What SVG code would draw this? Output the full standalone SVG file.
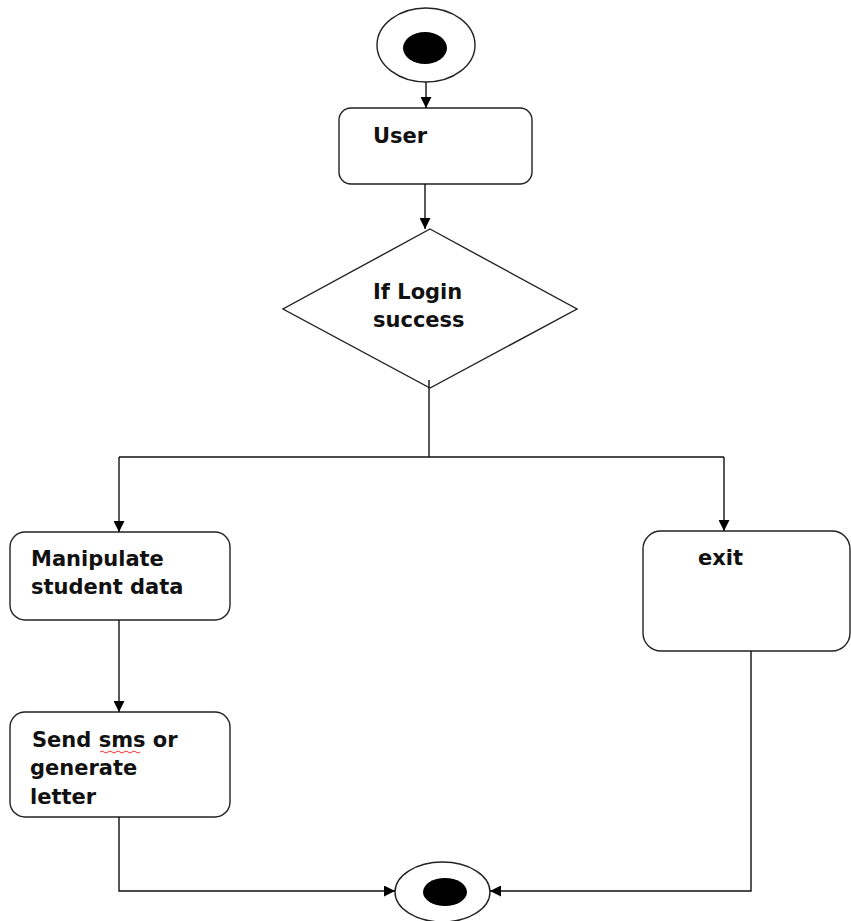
<svg xmlns="http://www.w3.org/2000/svg" width="851" height="921" viewBox="0 0 851 921">
<style>
.box{fill:#fff;stroke:#222;stroke-width:1.4}
.ln{fill:none;stroke:#111;stroke-width:1.4}
.t{font-family:"DejaVu Sans",Verdana,sans-serif;font-weight:bold;font-size:21px;fill:#111}
</style>
<defs>
<marker id="arr" viewBox="0 0 10 10" refX="10" refY="5" markerWidth="11" markerHeight="11" markerUnits="userSpaceOnUse" orient="auto">
<path d="M0,0 L10,5 L0,10 z" fill="#000"/>
</marker>
</defs>
<rect width="851" height="921" fill="#fff"/>
<g id="start">
<ellipse class="box" cx="426" cy="45" rx="49" ry="37"/>
<ellipse cx="425" cy="48" rx="22" ry="16" fill="#000"/>
</g>
<g id="user">
<rect class="box" x="339" y="108" width="193" height="76" rx="12"/>
<text class="t" x="373" y="143">User</text>
</g>
<g id="decision">
<polygon class="box" points="430,229 577,309 430,388 283,309"/>
<text class="t" x="373" y="299">If Login</text>
<text class="t" x="373" y="327">success</text>
</g>
<g id="manipulate">
<rect class="box" x="10" y="532" width="220" height="88" rx="15"/>
<text class="t" x="31" y="566">Manipulate</text>
<text class="t" x="31" y="594">student data</text>
</g>
<g id="send">
<rect class="box" x="10" y="712" width="220" height="105" rx="15"/>
<text class="t" x="32" y="747">Send sms or</text>
<text class="t" x="30" y="775">generate</text>
<text class="t" x="30" y="804">letter</text>
<path d="M100,752 q2,-2 4,0 t4,0 t4,0 t4,0 t4,0 t4,0 t4,0 t4,0 t4,0 t4,0" fill="none" stroke="#e33" stroke-width="1"/>
</g>
<g id="exit">
<rect class="box" x="643" y="531" width="207" height="120" rx="18"/>
<text class="t" x="698" y="565">exit</text>
</g>
<g id="end">
<ellipse class="box" cx="442.5" cy="892" rx="47.5" ry="30"/>
<ellipse cx="445" cy="892" rx="22" ry="14" fill="#000"/>
</g>
<g id="connectors">
<line class="ln" x1="426" y1="82" x2="426" y2="108" marker-end="url(#arr)"/>
<line class="ln" x1="425" y1="184" x2="425" y2="229" marker-end="url(#arr)"/>
<polyline class="ln" points="429,380 429,457"/>
<polyline class="ln" points="119,457 724,457"/>
<line class="ln" x1="119" y1="457" x2="119" y2="532" marker-end="url(#arr)"/>
<line class="ln" x1="724" y1="457" x2="724" y2="531" marker-end="url(#arr)"/>
<line class="ln" x1="119" y1="620" x2="119" y2="712" marker-end="url(#arr)"/>
<polyline class="ln" points="119,817 119,891 395,891" marker-end="url(#arr)"/>
<polyline class="ln" points="751,651 751,891 490,891" marker-end="url(#arr)"/>
</g>
</svg>
